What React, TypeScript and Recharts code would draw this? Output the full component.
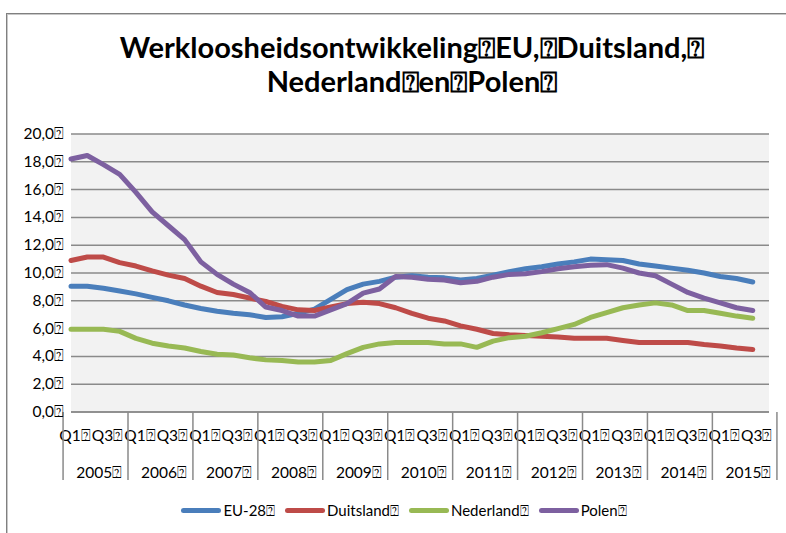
import React from 'react';
import { LineChart, Line, XAxis, YAxis, CartesianGrid } from 'recharts';

const BOX = '\u2370';
const years = ['2005', '2006', '2007', '2008', '2009', '2010', '2011', '2012', '2013', '2014', '2015'];
const quarters = ['Q1', 'Q2', 'Q3', 'Q4'];
const shownQuarters = ['Q1', 'Q3'];

const euValues = [9.05, 9.05, 8.9, 8.7, 8.5, 8.25, 8.0, 7.7, 7.45, 7.25, 7.1, 7.0, 6.8, 6.85, 7.1, 7.4, 8.1, 8.8, 9.2, 9.4, 9.7, 9.8, 9.7, 9.65, 9.5, 9.6, 9.85, 10.1, 10.3, 10.45, 10.65, 10.8, 11.0, 10.95, 10.9, 10.65, 10.5, 10.35, 10.2, 10.0, 9.75, 9.6, 9.35];
const deValues = [10.9, 11.15, 11.15, 10.75, 10.5, 10.15, 9.85, 9.6, 9.05, 8.6, 8.45, 8.2, 7.95, 7.6, 7.35, 7.3, 7.55, 7.8, 7.9, 7.8, 7.5, 7.1, 6.75, 6.55, 6.2, 5.95, 5.65, 5.55, 5.5, 5.45, 5.4, 5.3, 5.3, 5.3, 5.15, 5.0, 5.0, 5.0, 5.0, 4.85, 4.75, 4.6, 4.5];
const nlValues = [5.95, 5.95, 5.95, 5.8, 5.3, 4.95, 4.75, 4.6, 4.35, 4.15, 4.1, 3.9, 3.75, 3.7, 3.6, 3.6, 3.7, 4.2, 4.65, 4.9, 5.0, 5.0, 5.0, 4.9, 4.9, 4.65, 5.1, 5.35, 5.45, 5.7, 6.0, 6.3, 6.8, 7.15, 7.5, 7.7, 7.85, 7.7, 7.3, 7.3, 7.1, 6.9, 6.75];
const plValues = [18.2, 18.45, 17.8, 17.1, 15.8, 14.4, 13.4, 12.4, 10.8, 9.9, 9.2, 8.6, 7.55, 7.3, 6.9, 6.9, 7.35, 7.8, 8.55, 8.85, 9.75, 9.7, 9.55, 9.5, 9.3, 9.4, 9.7, 9.9, 9.95, 10.1, 10.3, 10.45, 10.55, 10.6, 10.35, 10.0, 9.8, 9.2, 8.6, 8.2, 7.85, 7.5, 7.3];

const seriesNames = ['EU-28', 'Duitsland', 'Nederland', 'Polen'];
const seriesKeys = ['eu', 'de', 'nl', 'pl'];
const seriesColors = ['#4A7EBB', '#BE4B48', '#98B954', '#7D60A0'];
const yTicks = [0, 2, 4, 6, 8, 10, 12, 14, 16, 18, 20];
const titleLines = ['Werkloosheidsontwikkeling' + BOX + 'EU,' + BOX + 'Duitsland,' + BOX, 'Nederland' + BOX + 'en' + BOX + 'Polen' + BOX];

const allValues = [euValues, deValues, nlValues, plValues];
const data = years.flatMap((y, yi) =>
  quarters.map((q, qi) => {
    const i = yi * 4 + qi;
    const row: any = { key: y + ' ' + q, year: y, q };
    seriesKeys.forEach((k, si) => {
      const v = allValues[si][i];
      row[k] = v === undefined ? null : v;
    });
    return row;
  })
);

const FONT = 'Lato, "Liberation Sans", sans-serif';
const AX_FS = 15.5;
const W = 786;
const H = 533;
const M = { top: 134, right: 17, bottom: 51, left: 11 };
const YW = 60;
const XH = 70;
const PL = M.left + YW;
const PR = W - M.right;
const PB = H - M.bottom - XH;
const BAND = (PR - PL) / data.length;
const AXIS_GRAY = '#8a8a8a';

function XTick(props: any) {
  const { x, index } = props;
  const d = data[index];
  if (!d) return null;
  const els: any[] = [];
  if (shownQuarters.includes(d.q)) {
    els.push(
      <text key="q" x={x + 4} y={PB + 29} textAnchor="middle" fontSize={AX_FS} fontFamily={FONT} fill="#000">
        {d.q + BOX}
      </text>
    );
  }
  if (d.q === 'Q1') {
    els.push(<line key="s" x1={x - BAND / 2} x2={x - BAND / 2} y1={PB} y2={PB + 68} stroke={AXIS_GRAY} strokeWidth={1.5} />);
  }
  if (index === data.length - 1) {
    els.push(<line key="e" x1={x + BAND / 2} x2={x + BAND / 2} y1={PB} y2={PB + 68} stroke={AXIS_GRAY} strokeWidth={1.5} />);
  }
  if (d.q === 'Q2') {
    els.push(
      <text key="y" x={x + BAND / 2 + 4} y={PB + 66} textAnchor="middle" fontSize={AX_FS} fontFamily={FONT} fill="#000">
        {d.year + BOX}
      </text>
    );
  }
  return <g>{els}</g>;
}

function YTick(props: any) {
  const { y, payload } = props;
  const label = payload.value.toFixed(1).replace('.', ',') + BOX;
  return (
    <text x={PL - 7} y={y + 5} textAnchor="end" fontSize={AX_FS} fontFamily={FONT} fill="#000">
      {label}
    </text>
  );
}

export default function App() {
  return (
    <div style={{ position: 'absolute', left: 0, top: 0, width: W, height: H, background: '#fff', overflow: 'hidden', fontFamily: FONT }}>
      <div
        style={{
          position: 'absolute',
          left: 6,
          top: 13,
          width: W + 20,
          height: H + 20,
          borderLeft: '1px solid #808080',
          borderTop: '1px solid #808080',
          boxShadow: 'inset 1px 1px 0 #c8c8c8',
        }}
      />
      <div
        style={{
          position: 'absolute',
          left: 38,
          top: 30,
          width: 748,
          textAlign: 'center',
          fontWeight: 700,
          fontSize: 29,
          lineHeight: '34px',
          color: '#000',
        }}
      >
        {titleLines.map((t) => (
          <div key={t}>{t}</div>
        ))}
      </div>
      <LineChart width={W} height={H} data={data} margin={M} style={{ position: 'absolute', left: 0, top: 0 }}>
        <CartesianGrid vertical={false} horizontal={true} fill="#f2f2f2" stroke={AXIS_GRAY} strokeWidth={1.5} />
        <XAxis
          dataKey="key"
          interval={0}
          height={XH}
          tickLine={false}
          axisLine={{ stroke: AXIS_GRAY, strokeWidth: 1.5 }}
          tick={<XTick />}
        />
        <YAxis
          domain={[0, 20]}
          ticks={yTicks}
          width={YW}
          axisLine={false}
          tickLine={false}
          tick={<YTick />}
          interval={0}
        />
        {seriesKeys.map((k, i) => (
          <Line
            key={k}
            dataKey={k}
            name={seriesNames[i]}
            stroke={seriesColors[i]}
            strokeWidth={5}
            strokeLinecap="round"
            strokeLinejoin="round"
            dot={false}
            activeDot={false}
            isAnimationActive={false}
          />
        ))}
      </LineChart>
      <div
        style={{
          position: 'absolute',
          left: 0,
          top: 499,
          width: 818,
          display: 'flex',
          justifyContent: 'center',
          alignItems: 'center',
          fontSize: 15,
          lineHeight: '22px',
          color: '#000',
        }}
      >
        {seriesNames.map((n, i) => (
          <div key={n} style={{ display: 'flex', alignItems: 'center', marginRight: 10 }}>
            <div style={{ width: 40, height: 5, borderRadius: 3, background: seriesColors[i], marginRight: 2 }} />
            <span>{n + BOX}</span>
          </div>
        ))}
      </div>
    </div>
  );
}
